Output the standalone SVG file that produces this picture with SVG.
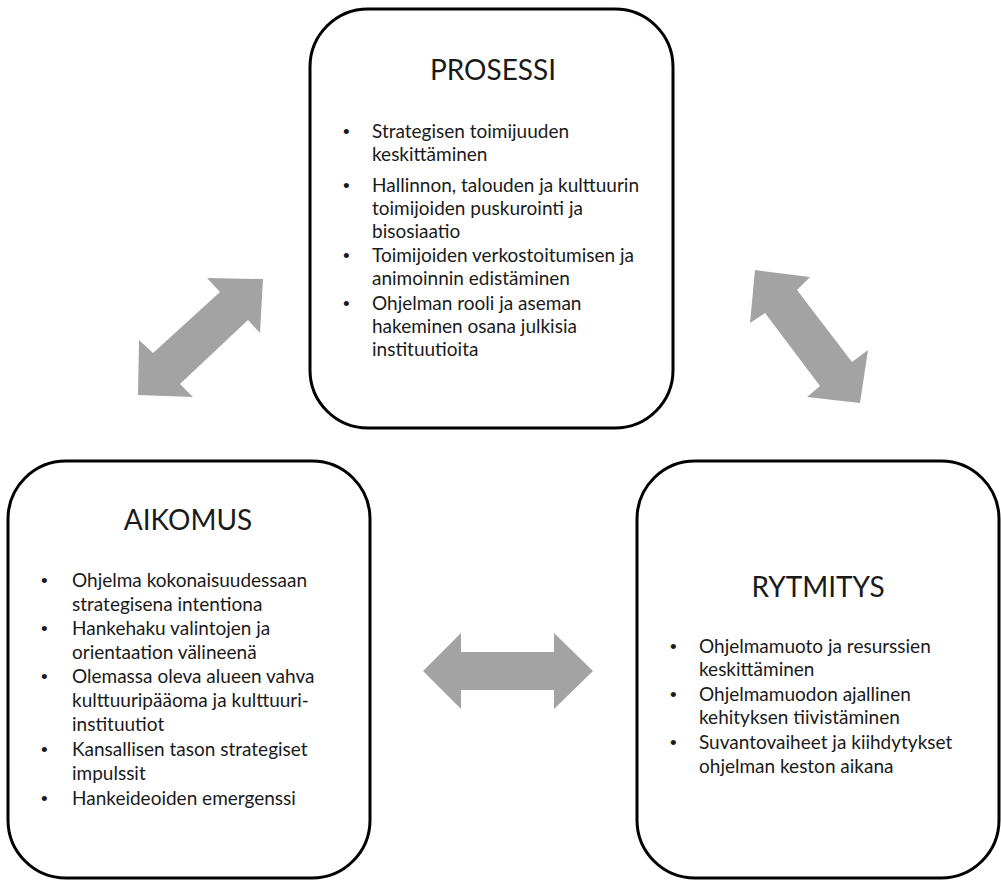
<svg xmlns="http://www.w3.org/2000/svg" width="1001" height="880" viewBox="0 0 1001 880">
  <style>
    .box { fill: #ffffff; stroke: #000000; stroke-width: 3; }
    .title { font-family: Lato, "Liberation Sans", sans-serif; font-size: 28px; fill: #1a1a1a; text-anchor: middle; }
    .item { font-family: Lato, "Liberation Sans", sans-serif; font-size: 19px; fill: #1a1a1a; }
    .dot { font-family: "Liberation Sans", sans-serif; font-size: 19px; fill: #1a1a1a; }
    .link { fill: #a3a3a3; stroke: none; }
  </style>

  <!-- two-headed block arrows between the three stages -->
  <g id="connectors">
    <polygon class="link" points="263,279 260,333 248,320 180,384 193,397 138,395 139,340 153,353 220,292 207,278"/>
    <polygon class="link" points="755,270 810,277 797,290 852,362 868,350 860,403 807,397 820,386 765,313 750,323"/>
    <polygon class="link" points="423,671 461,633 461,652 554,652 554,633 593,671 554,709 554,690 461,690 461,709"/>
  </g>

  <g id="prosessi">
    <rect class="box" x="310" y="9" width="363" height="419" rx="58" ry="58"/>
    <text class="title" x="493" y="80">PROSESSI</text>
    <text class="dot" x="343" y="138">•</text>
    <text class="item" x="372" y="138">Strategisen toimijuuden</text>
    <text class="item" x="372" y="161">keskittäminen</text>
    <text class="dot" x="343" y="192">•</text>
    <text class="item" x="372" y="192">Hallinnon, talouden ja kulttuurin</text>
    <text class="item" x="372" y="215">toimijoiden puskurointi ja</text>
    <text class="item" x="372" y="238">bisosiaatio</text>
    <text class="dot" x="343" y="262">•</text>
    <text class="item" x="372" y="262">Toimijoiden verkostoitumisen ja</text>
    <text class="item" x="372" y="285">animoinnin edistäminen</text>
    <text class="dot" x="343" y="310">•</text>
    <text class="item" x="372" y="310">Ohjelman rooli ja aseman</text>
    <text class="item" x="372" y="333">hakeminen osana julkisia</text>
    <text class="item" x="372" y="356">instituutioita</text>
  </g>

  <g id="aikomus">
    <rect class="box" x="8" y="461" width="362" height="417" rx="58" ry="58"/>
    <text class="title" x="188" y="530">AIKOMUS</text>
    <text class="dot" x="41" y="587">•</text>
    <text class="item" x="72" y="587">Ohjelma kokonaisuudessaan</text>
    <text class="item" x="72" y="611">strategisena intentiona</text>
    <text class="dot" x="41" y="635">•</text>
    <text class="item" x="72" y="635">Hankehaku valintojen ja</text>
    <text class="item" x="72" y="659">orientaation välineenä</text>
    <text class="dot" x="41" y="683">•</text>
    <text class="item" x="72" y="683">Olemassa oleva alueen vahva</text>
    <text class="item" x="72" y="707">kulttuuripääoma ja kulttuuri-</text>
    <text class="item" x="72" y="731">instituutiot</text>
    <text class="dot" x="41" y="756">•</text>
    <text class="item" x="72" y="756">Kansallisen tason strategiset</text>
    <text class="item" x="72" y="780">impulssit</text>
    <text class="dot" x="41" y="805">•</text>
    <text class="item" x="72" y="805">Hankeideoiden emergenssi</text>
  </g>

  <g id="rytmitys">
    <rect class="box" x="637" y="461" width="362" height="417" rx="58" ry="58"/>
    <text class="title" x="818" y="597">RYTMITYS</text>
    <text class="dot" x="670" y="653">•</text>
    <text class="item" x="699" y="653">Ohjelmamuoto ja resurssien</text>
    <text class="item" x="699" y="676">keskittäminen</text>
    <text class="dot" x="670" y="701">•</text>
    <text class="item" x="699" y="701">Ohjelmamuodon ajallinen</text>
    <text class="item" x="699" y="724">kehityksen tiivistäminen</text>
    <text class="dot" x="670" y="749">•</text>
    <text class="item" x="699" y="749">Suvantovaiheet ja kiihdytykset</text>
    <text class="item" x="699" y="773">ohjelman keston aikana</text>
  </g>
</svg>
